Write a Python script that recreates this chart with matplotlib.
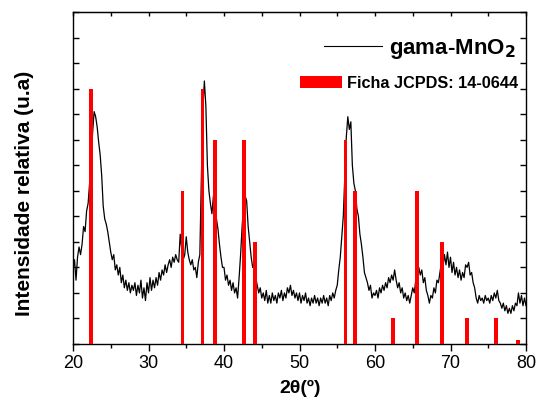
import numpy as np
import matplotlib
matplotlib.use("Agg")
import matplotlib.pyplot as plt
from matplotlib.lines import Line2D
from matplotlib.patches import Patch
from matplotlib.ticker import MultipleLocator

plt.rcParams['font.family'] = ['Liberation Sans', 'DejaVu Sans']

# XRD pattern, one value every 0.2 degrees (20 -> 80)
two_theta = np.round(np.arange(20.0, 80.01, 0.2), 1)
intensity = [
    2.9, 3.3, 2.5, 3.4, 3.8, 3.5, 3.9, 4.6, 4.4, 5.2,   # 20
    5.5, 6.3, 7.2, 8.3, 9.1, 8.9, 8.5, 7.9, 7.4, 6.6,   # 22
    5.4, 4.9, 4.7, 4.4, 4.0, 3.6, 3.3, 3.5, 2.9, 3.1,   # 24
    2.7, 3.0, 2.4, 2.7, 2.2, 2.5, 2.1, 2.4, 2.0, 2.3,   # 26
    2.1, 2.4, 1.9, 2.3, 2.0, 2.5, 1.8, 2.2, 1.7, 2.4,   # 28
    2.0, 2.6, 2.1, 2.5, 2.2, 2.6, 2.3, 2.8, 2.5, 2.9,   # 30
    2.7, 3.1, 2.8, 3.1, 3.3, 3.0, 3.4, 3.2, 3.5, 3.3,   # 32
    3.2, 4.3, 3.7, 3.3, 3.5, 4.2, 3.6, 3.3, 3.1, 3.3,   # 34
    2.9, 3.0, 2.6, 3.2, 3.5, 6.5, 9.2, 10.3, 9.3, 7.0,  # 36
    6.0, 5.5, 5.1, 5.8, 5.3, 4.9, 4.5, 3.9, 3.4, 3.0,   # 38
    3.0, 2.5, 2.7, 2.3, 2.5, 2.1, 2.4, 2.0, 2.2, 1.8,   # 40
    2.6, 3.5, 4.6, 5.5, 5.8, 5.6, 4.6, 4.0, 3.4, 3.0,   # 42
    3.2, 2.6, 2.3, 2.0, 2.2, 1.8, 2.0, 1.7, 2.1, 1.6,   # 44
    1.9, 1.6, 2.0, 1.7, 1.9, 1.6, 2.0, 1.8, 2.1, 1.7,   # 46
    2.0, 1.8, 2.2, 2.0, 2.3, 1.9, 2.1, 1.8, 2.0, 1.7,   # 48
    2.0, 1.6, 1.9, 1.7, 2.0, 1.6, 1.8, 1.5, 1.8, 1.6,   # 50
    1.9, 1.6, 1.8, 1.5, 1.8, 1.6, 1.9, 1.6, 1.8, 1.5,   # 52
    1.9, 1.7, 2.0, 1.8, 2.1, 2.3, 2.9, 3.4, 4.2, 5.0,   # 54
    6.5, 8.1, 8.9, 8.4, 8.7, 7.0, 6.3, 6.0, 5.3, 5.0,   # 56
    4.3, 3.9, 3.4, 2.8, 2.6, 2.4, 2.1, 2.3, 1.8, 2.0,   # 58
    1.9, 2.1, 1.8, 2.2, 2.0, 2.3, 2.1, 2.4, 2.2, 2.6,   # 60
    2.4, 2.7, 2.5, 2.9, 2.5, 2.2, 2.4, 2.0, 2.2, 1.8,   # 62
    2.0, 1.7, 1.9, 1.6, 1.9, 2.2, 2.0, 2.5, 2.7, 3.0,   # 64
    2.7, 2.9, 2.4, 2.6, 2.1, 1.9, 1.6, 1.9, 1.8, 2.2,   # 66
    2.0, 2.5, 2.4, 2.8, 3.2, 3.0, 3.5, 3.1, 3.6, 3.0,   # 68
    3.4, 2.8, 3.2, 2.7, 3.0, 2.6, 2.9, 2.5, 2.8, 2.6,   # 70
    3.1, 3.0, 3.2, 2.7, 2.8, 2.4, 2.2, 1.8, 1.6, 1.9,   # 72
    1.7, 1.8, 1.6, 1.9, 1.7, 1.8, 1.6, 1.9, 1.7, 2.0,   # 74
    1.8, 2.1, 1.7, 1.6, 1.4, 1.6, 1.3, 1.5, 1.2, 1.4,   # 76
    1.2, 1.5, 1.3, 1.6, 1.5, 2.0, 1.6, 1.9, 1.5, 1.8,   # 78
    1.5,                                                # 80
]

# reference card JCPDS 14-0644
card_pos = [22.4, 34.5, 37.15, 38.8, 42.6, 44.1, 56.1, 57.3, 62.4, 65.6, 68.9, 72.2, 76.0, 78.9]
card_int = [10, 6, 10, 8, 8, 4, 8, 6, 1, 6, 4, 1, 1, 0.15]

fig = plt.figure(figsize=(5.36, 4.05), dpi=100)
ax = fig.add_axes([73/536, 1 - 344/405, 453/536, 332/405])

ax.plot(two_theta, intensity, color='black', lw=0.9, zorder=2)
ax.bar(card_pos, card_int, width=0.5, color='#ff0000', zorder=3)

ax.set_xlim(20, 80)
ax.set_ylim(0, 13)

ax.xaxis.set_major_locator(MultipleLocator(10))
ax.xaxis.set_minor_locator(MultipleLocator(5))
ax.yaxis.set_major_locator(MultipleLocator(1))
ax.tick_params(axis='x', which='major', direction='out', length=5, width=1, labelsize=13, pad=3)
ax.tick_params(axis='x', which='minor', direction='out', length=3, width=1)
ax.tick_params(axis='y', which='both', direction='in', length=4, width=1,
               left=True, right=True, labelleft=False)
for s in ax.spines.values():
    s.set_linewidth(1)

top = ax.secondary_xaxis('top')
top.xaxis.set_major_locator(MultipleLocator(5))
top.tick_params(direction='in', length=3, width=1, labeltop=False)

ax.set_xlabel('2θ(º)', fontsize=14, fontweight='bold')
ax.set_ylabel('Intensidade relativa (u.a)', fontsize=15, fontweight='bold')
ax.xaxis.set_label_coords(0.501, -0.108)
ax.yaxis.set_label_coords(-0.085, 0.455)

h1 = Line2D([], [], color='black', lw=0.8)
leg1 = ax.legend([h1], ['gama-MnO$_\\mathbf{2}$'], loc='center right',
                 bbox_to_anchor=(0.978, 0.89), frameon=False, borderpad=0,
                 borderaxespad=0, handlelength=2.6, handletextpad=0.35,
                 prop={'size': 16, 'weight': 'bold'})
ax.add_artist(leg1)
h2 = Patch(facecolor='#ff0000', edgecolor='none')
ax.legend([h2], ['Ficha JCPDS: 14-0644'], loc='center right',
          bbox_to_anchor=(0.983, 0.786), frameon=False, borderpad=0,
          borderaxespad=0, handlelength=2.6, handleheight=0.8, handletextpad=0.3,
          prop={'size': 11.7, 'weight': 'bold'})

fig.savefig('out.png', dpi=100)
